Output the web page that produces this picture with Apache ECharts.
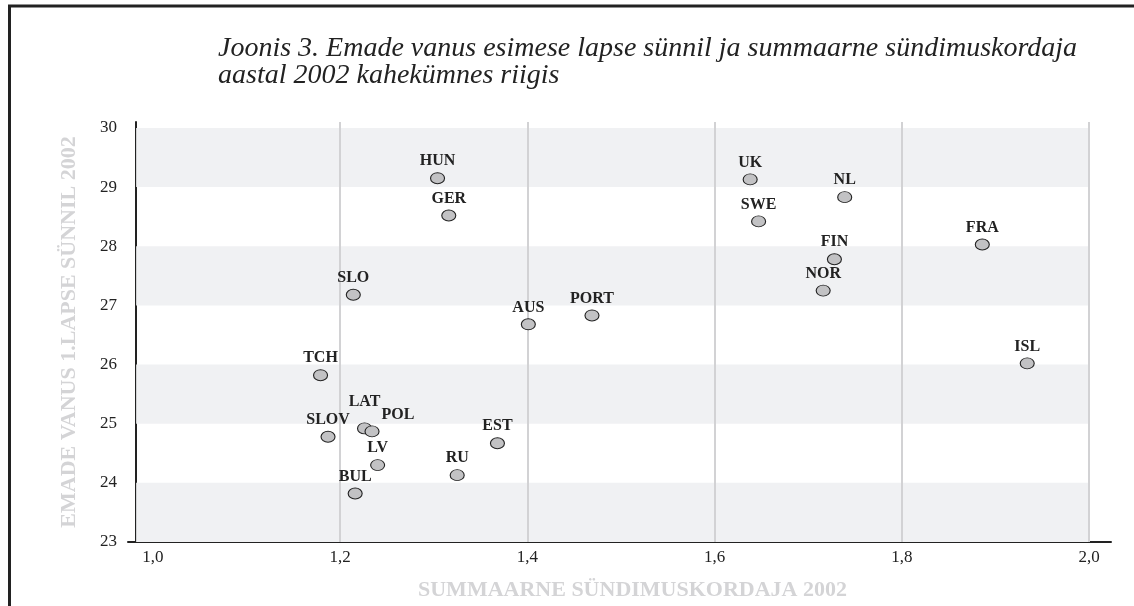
<!DOCTYPE html>
<html>
<head>
<meta charset="utf-8">
<script src="https://cdn.jsdelivr.net/npm/echarts@6/dist/echarts.min.js"></script>
<style>
  html, body { margin: 0; padding: 0; background: #fff; }
  #chart { width: 1134px; height: 606px; }
</style>
</head>
<body>
<div id="chart"></div>
<script>
// riigid ja väärtused (loetud jooniselt)
var countries = ['HUN', 'GER', 'SLO', 'AUS', 'PORT', 'TCH', 'SLOV', 'LAT', 'POL', 'LV',
                 'BUL', 'RU', 'EST', 'UK', 'NL', 'SWE', 'FIN', 'NOR', 'FRA', 'ISL'];
var fertility = [1.304, 1.316, 1.214, 1.401, 1.469, 1.179, 1.187, 1.226, 1.234, 1.240,
                 1.216, 1.325, 1.368, 1.638, 1.739, 1.647, 1.728, 1.716, 1.886, 1.934];
var motherAge = [29.15, 28.52, 27.18, 26.68, 26.83, 25.82, 24.78, 24.92, 24.87, 24.30,
                 23.82, 24.13, 24.67, 29.13, 28.83, 28.42, 27.78, 27.25, 28.03, 26.02];
var xTicks = [1.0, 1.2, 1.4, 1.6, 1.8, 2.0];
var yTicks = [23, 24, 25, 26, 27, 28, 29, 30];

var serif = '"Liberation Serif", "Times New Roman", serif';

// sildi nihked kattuvate punktide juures
var labelShift = { LAT: [0, -10], POL: [26, 0] };

var points = countries.map(function (c, i) {
  var p = { name: c, value: [fertility[i], motherAge[i]] };
  if (labelShift[c]) p.label = { offset: labelShift[c] };
  return p;
});

// hallid ribad: 23-24, 25-26, 27-28, 29-30
var bands = [];
for (var i = 0; i < yTicks.length - 1; i += 2) {
  bands.push([{ xAxis: 0.982, yAxis: yTicks[i] }, { xAxis: 2.0, yAxis: yTicks[i + 1] }]);
}
var vLines = xTicks.slice(1).map(function (v) { return { xAxis: v }; });

var chart = echarts.init(document.getElementById('chart'));
var option = {
  backgroundColor: '#fff',
  animation: false,
  title: {
    text: 'Joonis 3. Emade vanus esimese lapse sünnil ja summaarne sündimuskordaja\naastal 2002 kahekümnes riigis',
    left: 213,
    top: 30,
    textStyle: {
      fontFamily: serif,
      fontStyle: 'italic',
      fontWeight: 'normal',
      fontSize: 28,
      lineHeight: 27,
      color: '#222'
    }
  },
  graphic: [
    { type: 'line', shape: { x1: 8, y1: 6, x2: 1134, y2: 6 }, style: { stroke: '#222', lineWidth: 3 } },
    { type: 'line', shape: { x1: 9.5, y1: 5, x2: 9.5, y2: 606 }, style: { stroke: '#222', lineWidth: 3 } }
  ],
  grid: { left: 128, right: 23, top: 122, bottom: 57 },
  xAxis: {
    type: 'value',
    min: 0.9733,
    max: 2.0235,
    name: 'SUMMAARNE SÜNDIMUSKORDAJA 2002',
    nameLocation: 'middle',
    nameGap: 37,
    nameTextStyle: {
      fontFamily: serif, fontWeight: 'bold', fontSize: 22, color: '#d4d4d6',
      padding: [0, 0, 0, 26]
    },
    axisLine: { lineStyle: { color: '#222', width: 2 } },
    axisTick: { show: false },
    splitLine: { show: false },
    axisLabel: {
      customValues: xTicks,
      margin: 7,
      fontFamily: serif, fontSize: 17, color: '#222',
      formatter: function (v) { return v.toFixed(1).replace('.', ','); }
    }
  },
  yAxis: {
    type: 'value',
    min: 23,
    max: 30.1,
    offset: -8,
    name: 'EMADE VANUS 1.LAPSE SÜNNIL 2002',
    nameLocation: 'middle',
    nameGap: 56,
    nameTextStyle: { fontFamily: serif, fontWeight: 'bold', fontSize: 22, color: '#d4d4d6' },
    axisLine: { lineStyle: { color: '#222', width: 2 } },
    axisTick: { show: false },
    splitLine: { show: false },
    axisLabel: {
      customValues: yTicks,
      margin: 19,
      fontFamily: serif, fontSize: 17, color: '#222'
    }
  },
  series: [{
    type: 'scatter',
    data: points,
    symbol: 'circle',
    symbolSize: [14, 11],
    itemStyle: { color: '#c2c2c4', borderColor: '#222', borderWidth: 1, opacity: 1 },
    label: {
      show: true,
      position: 'top',
      distance: 3,
      formatter: '{b}',
      fontFamily: serif,
      fontWeight: 'bold',
      fontSize: 16,
      color: '#222'
    },
    markArea: {
      silent: true,
      itemStyle: { color: '#f0f1f3' },
      data: bands
    },
    markLine: {
      silent: true,
      symbol: 'none',
      label: { show: false },
      lineStyle: { color: '#d2d2d4', width: 2, type: 'solid' },
      data: vLines,
      z: 1
    }
  }]
};
chart.setOption(option);
</script>
</body>
</html>
